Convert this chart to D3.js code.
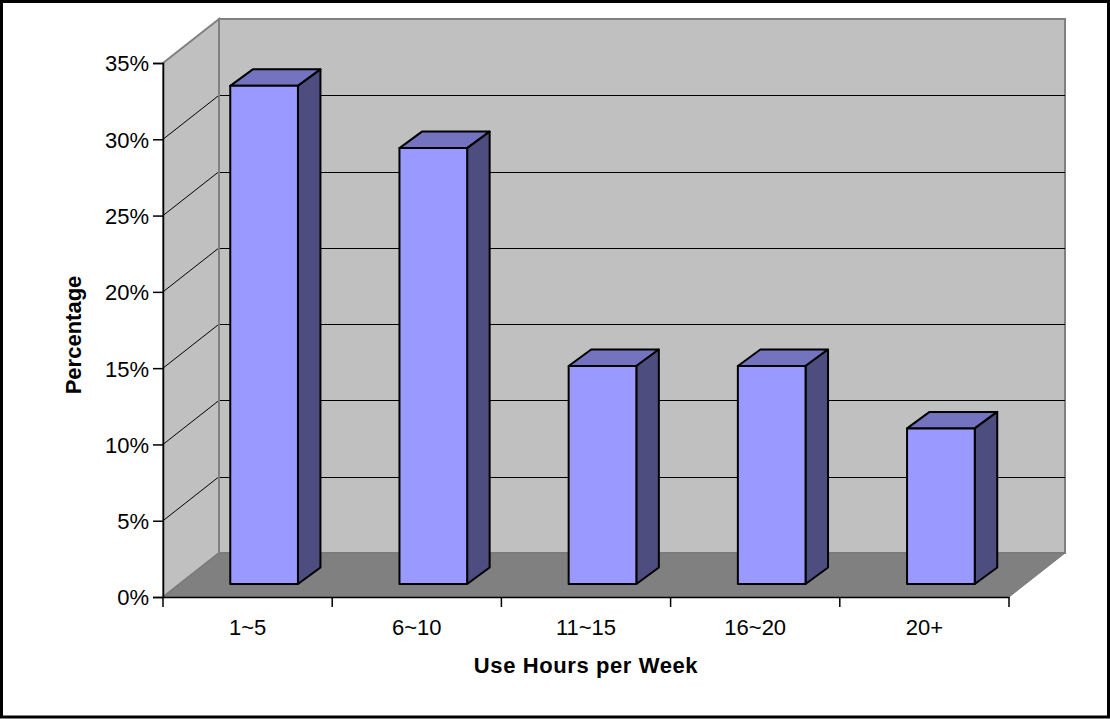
<!DOCTYPE html>
<html>
<head>
<meta charset="utf-8">
<script src="https://cdn.jsdelivr.net/npm/d3@7"></script>
<style>
  html, body { margin: 0; padding: 0; background: #fff; }
  svg { display: block; font-family: "Liberation Sans", Arial, sans-serif; }
</style>
</head>
<body>
<svg id="chart" width="1110" height="719"></svg>
<script>
// Weekly usage hours, share of respondents
const categories = ["1~5", "6~10", "11~15", "16~20", "20+"];
const shares = [0.3265, 0.2857, 0.1429, 0.1429, 0.1020];
const percentTicks = [0, 0.05, 0.10, 0.15, 0.20, 0.25, 0.30, 0.35];

const svg = d3.select("#chart");

// Front plane of the plot
const plotLeft = 163, plotRight = 1009, plotBottom = 597, plotTop = 63;
// Perspective offset of the back wall
const wallDx = 56, wallDy = -44;
// Bars sit partway into the floor and have their own depth
const barOffDx = 16.5, barOffDy = -13;
const barDx = 22.5, barDy = -16.5;

const x = d3.scaleBand().domain(categories).range([plotLeft, plotRight]).paddingInner(0).paddingOuter(0);
const y = d3.scaleLinear().domain([0, 0.35]).range([plotBottom, plotTop]);

// Outer frame
svg.append("rect")
  .attr("x", 1.5).attr("y", 1.5).attr("width", 1107).attr("height", 715.5)
  .attr("fill", "#fff").attr("stroke", "#000").attr("stroke-width", 3);

const poly = pts => pts.map(p => p.join(",")).join(" ");

// Back wall
svg.append("polygon")
  .attr("points", poly([
    [plotLeft + wallDx, y(0.35) + wallDy], [plotRight + wallDx, y(0.35) + wallDy],
    [plotRight + wallDx, y(0) + wallDy], [plotLeft + wallDx, y(0) + wallDy]]))
  .attr("fill", "#c0c0c0").attr("stroke", "#808080").attr("stroke-width", 2);

// Side wall
svg.append("polygon")
  .attr("points", poly([
    [plotLeft, y(0.35)], [plotLeft + wallDx, y(0.35) + wallDy],
    [plotLeft + wallDx, y(0) + wallDy], [plotLeft, y(0)]]))
  .attr("fill", "#c0c0c0").attr("stroke", "#808080").attr("stroke-width", 2);

// Floor
svg.append("polygon")
  .attr("points", poly([
    [plotLeft, y(0)], [plotRight, y(0)],
    [plotRight + wallDx, y(0) + wallDy], [plotLeft + wallDx, y(0) + wallDy]]))
  .attr("fill", "#808080").attr("stroke", "#777").attr("stroke-width", 1);

// Gridlines on back wall and side wall
const inner = percentTicks.filter(v => v > 0 && v < 0.35);
svg.append("g").selectAll("line").data(inner).join("line")
  .attr("x1", plotLeft + wallDx).attr("x2", plotRight + wallDx)
  .attr("y1", d => Math.round(y(d) + wallDy) + 0.5).attr("y2", d => Math.round(y(d) + wallDy) + 0.5)
  .attr("stroke", "#000").attr("stroke-width", 1);
svg.append("g").selectAll("line").data(inner).join("line")
  .attr("x1", plotLeft).attr("x2", plotLeft + wallDx)
  .attr("y1", d => y(d)).attr("y2", d => y(d) + wallDy)
  .attr("stroke", "#000").attr("stroke-width", 1);
// Back wall edge next to the side wall
svg.append("line")
  .attr("x1", plotLeft + wallDx).attr("x2", plotLeft + wallDx)
  .attr("y1", y(0.35) + wallDy).attr("y2", y(0) + wallDy)
  .attr("stroke", "#808080").attr("stroke-width", 2);

// Bars: front, top and side faces
const bw = x.bandwidth() * 0.4;
const barData = categories.map((c, i) => ({ c, v: shares[i] }));
svg.append("g").selectAll("g").data(barData).join("g").each(function (d) {
  const g = d3.select(this);
  const x0 = x(d.c) + x.bandwidth() * 0.3 + barOffDx;
  const x1 = x0 + bw;
  const yb = y(0) + barOffDy;
  const yt = y(d.v) + barOffDy;
  const faceStyle = sel => sel.attr("stroke", "#000").attr("stroke-width", 2).attr("stroke-linejoin", "round");
  g.append("polygon")
    .attr("points", poly([[x0, yt], [x1, yt], [x1 + barDx, yt + barDy], [x0 + barDx, yt + barDy]]))
    .attr("fill", "#7373bf").call(faceStyle);
  g.append("polygon")
    .attr("points", poly([[x1, yt], [x1 + barDx, yt + barDy], [x1 + barDx, yb + barDy], [x1, yb]]))
    .attr("fill", "#4d4d80").call(faceStyle);
  g.append("rect")
    .attr("x", x0).attr("y", yt).attr("width", bw).attr("height", yb - yt)
    .attr("fill", "#9999ff").call(faceStyle);
});

// Y axis
const yAxis = svg.append("g")
  .attr("transform", `translate(${plotLeft},0)`)
  .call(d3.axisLeft(y).tickValues(percentTicks).tickFormat(d3.format(".0%")).tickSize(10).tickPadding(4));
yAxis.select(".domain").attr("stroke", "#000").attr("stroke-width", 1.5);
yAxis.selectAll(".tick line").attr("stroke", "#000").attr("stroke-width", 1.5);
yAxis.selectAll(".tick text").attr("font-size", 22).attr("fill", "#000")
  .attr("font-family", "'Liberation Sans', Arial, sans-serif").attr("dy", "0.36em");

// X axis: labels at category centres, ticks at category boundaries
const xAxis = svg.append("g")
  .attr("transform", `translate(0,${plotBottom})`)
  .call(d3.axisBottom(x).tickSize(0).tickPadding(22));
xAxis.select(".domain").attr("stroke", "#000").attr("stroke-width", 1.5);
xAxis.selectAll(".tick text").attr("font-size", 22).attr("fill", "#000")
  .attr("font-family", "'Liberation Sans', Arial, sans-serif");
const bounds = categories.map(c => x(c)).concat([plotRight]);
svg.append("g").selectAll("line").data(bounds).join("line")
  .attr("x1", d => d).attr("x2", d => d)
  .attr("y1", plotBottom).attr("y2", plotBottom + 10)
  .attr("stroke", "#000").attr("stroke-width", 1.5);

// Axis titles
svg.append("text")
  .attr("x", (plotLeft + plotRight) / 2).attr("y", 673)
  .attr("text-anchor", "middle").attr("font-size", 22).attr("font-weight", "bold")
  .attr("letter-spacing", 0.6)
  .text("Use Hours per Week");
svg.append("text")
  .attr("transform", `translate(81,335) rotate(-90)`)
  .attr("text-anchor", "middle").attr("font-size", 22).attr("font-weight", "bold")
  .text("Percentage");
</script>
</body>
</html>
